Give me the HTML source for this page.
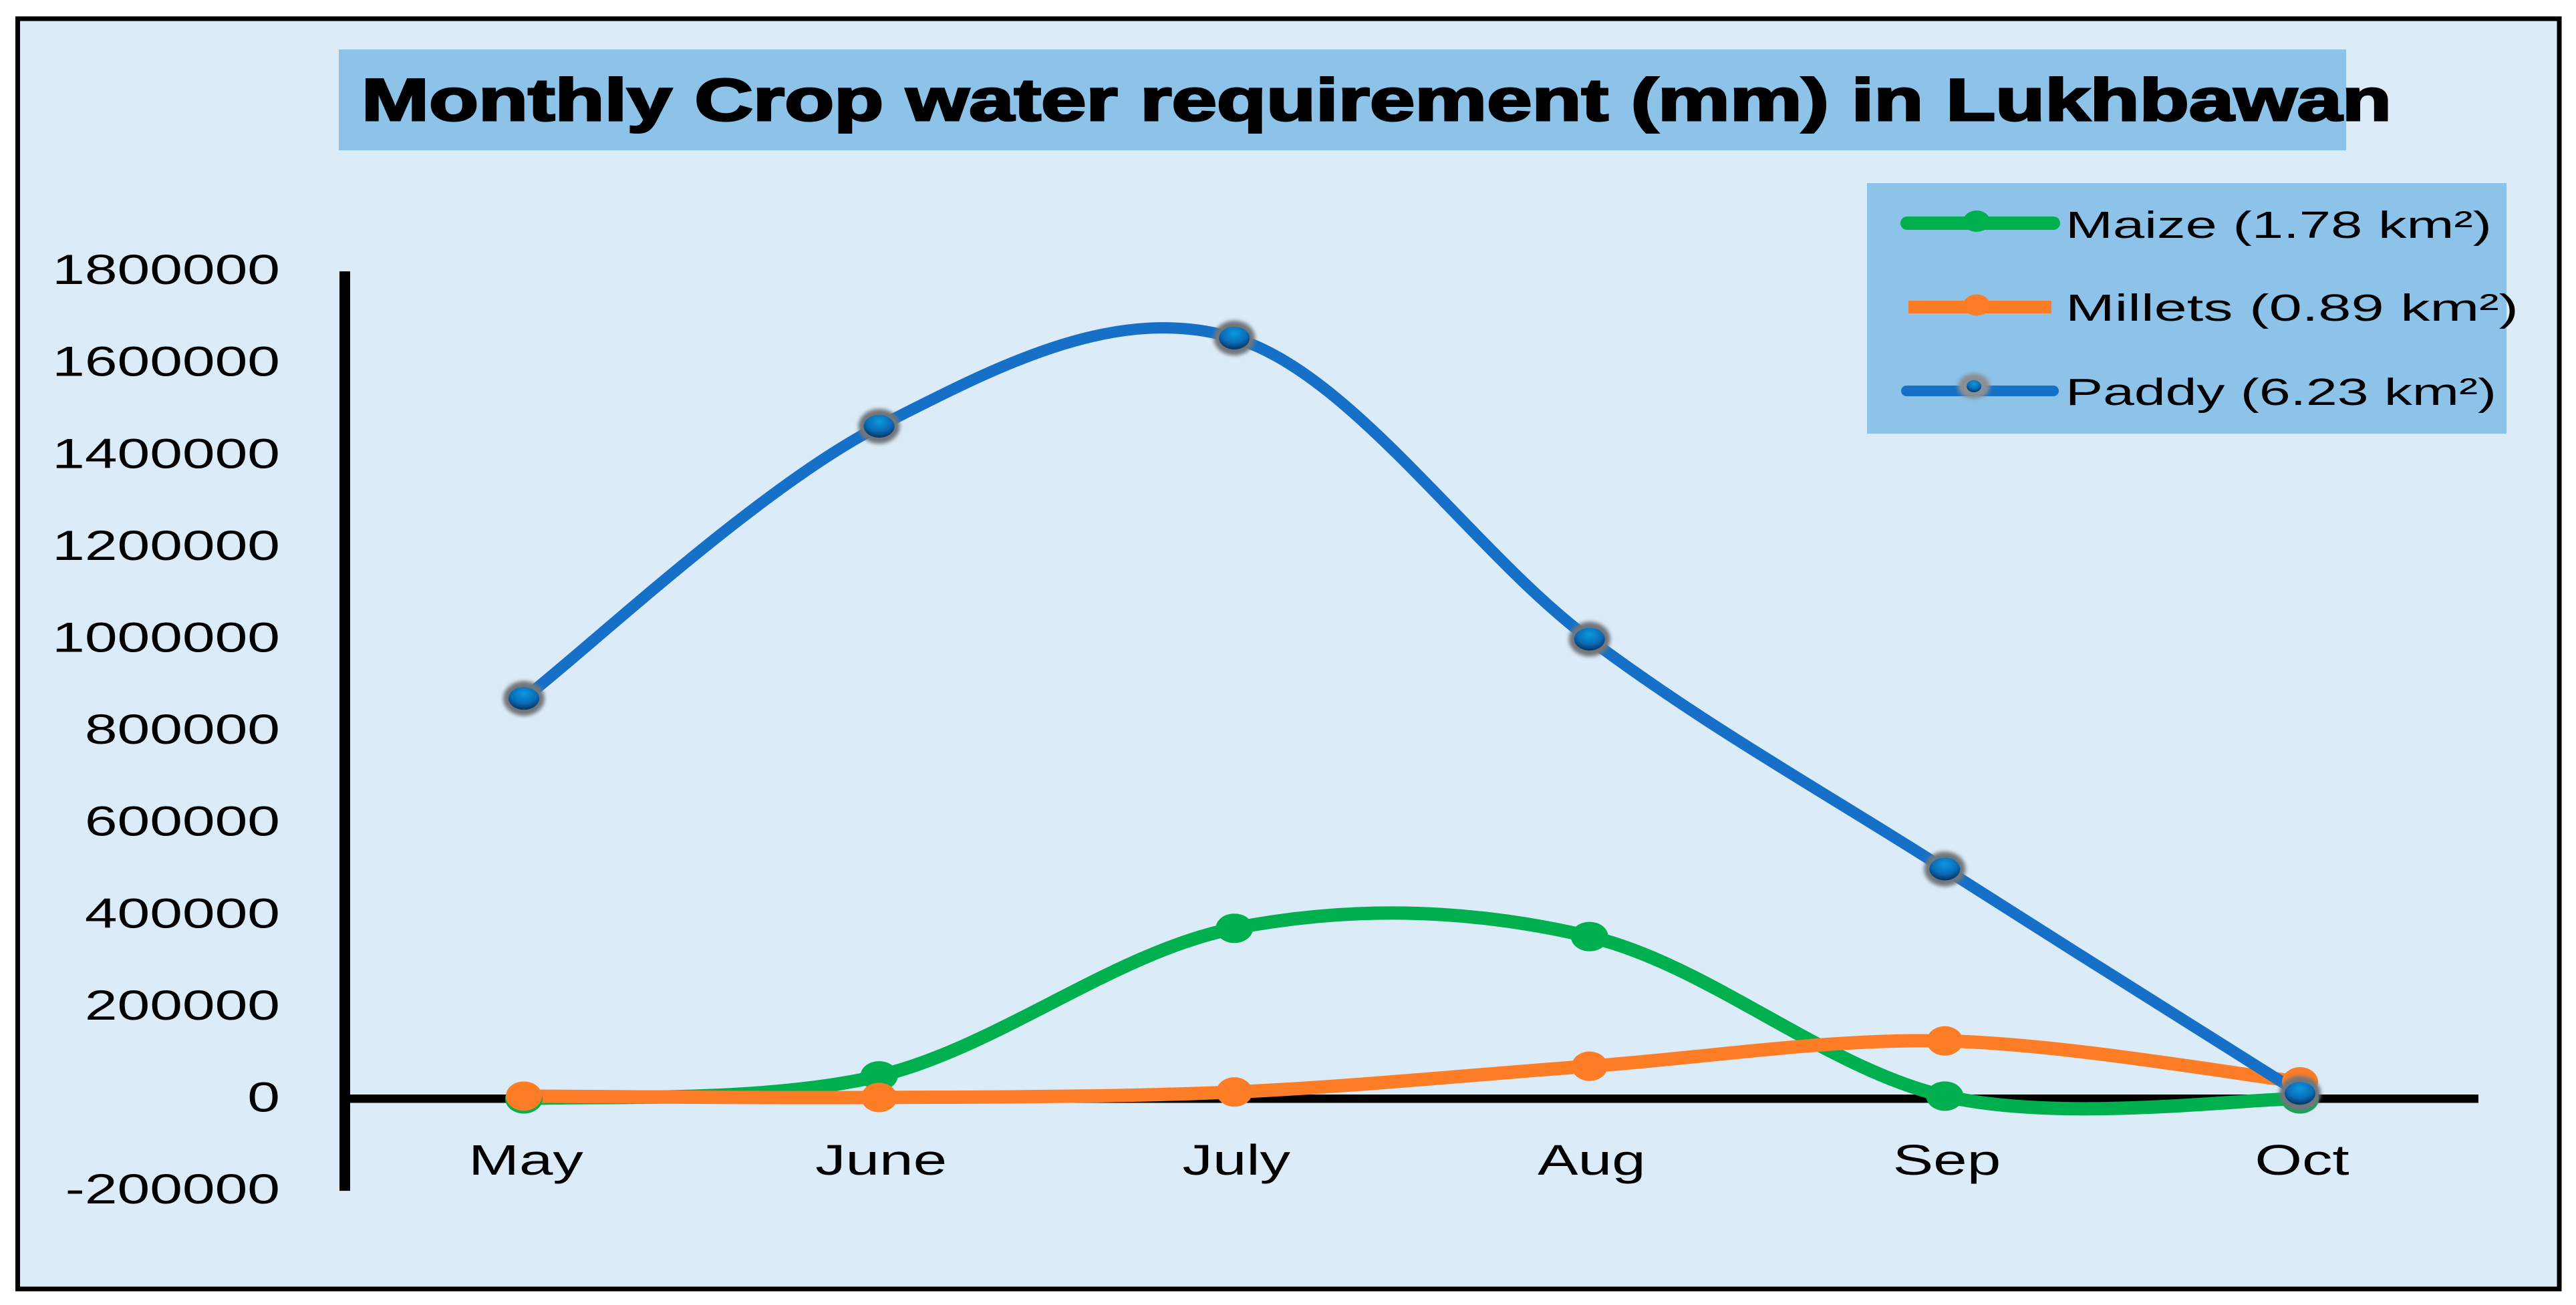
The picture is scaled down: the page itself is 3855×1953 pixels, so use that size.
<!DOCTYPE html>
<html lang="en">
<head>
<meta charset="utf-8">
<title>Monthly Crop water requirement (mm) in Lukhbawan</title>
<style>
html,body{margin:0;padding:0;background:#fff;width:3855px;height:1953px;overflow:hidden}
svg{display:block}
text{font-family:"Liberation Sans",sans-serif;fill:#000}
</style>
</head>
<body>
<svg id="chart" xmlns="http://www.w3.org/2000/svg" width="3855" height="1953" viewBox="0 0 3855 1953">
<defs>
<radialGradient id="paddyGrad" cx="50%" cy="30%" r="75%">
<stop offset="0%" stop-color="#0a98e0"/>
<stop offset="55%" stop-color="#0a6cb8"/>
<stop offset="100%" stop-color="#052a52"/>
</radialGradient>
<filter id="haloBlur" x="-40%" y="-40%" width="180%" height="180%"><feGaussianBlur stdDeviation="3"/></filter>
</defs>
<rect x="26.5" y="28" width="3803.5" height="1901" fill="#dbebf7" stroke="#000" stroke-width="7"/>
<rect x="507" y="74" width="3004" height="151" fill="#8dc3e8"/>
<text x="541" y="180" font-size="89" font-weight="700" stroke="#000" stroke-width="3" textLength="3038" lengthAdjust="spacingAndGlyphs">Monthly Crop water requirement (mm) in Lukhbawan</text>
<g id="axes"></g>
<g id="series"></g>
<g id="markers"></g>
<g>
<rect x="2794" y="274" width="957" height="375" fill="#8dc3e8"/>
<line x1="2854" y1="334" x2="3073" y2="334" stroke="#00b04f" stroke-width="20" stroke-linecap="round"/>
<ellipse cx="2958" cy="331" rx="20" ry="16" fill="#00b04f"/>
<text x="3091" y="356" font-size="57" textLength="638" lengthAdjust="spacingAndGlyphs">Maize (1.78 km²)</text>
<line x1="2856" y1="459.5" x2="3070" y2="459.5" stroke="#fd7c26" stroke-width="19"/>
<ellipse cx="2958" cy="456.5" rx="20" ry="16" fill="#fd7c26"/>
<text x="3091" y="480" font-size="57" textLength="678" lengthAdjust="spacingAndGlyphs">Millets (0.89 km²)</text>
<line x1="2853" y1="585" x2="3073" y2="585" stroke="#1670c8" stroke-width="16" stroke-linecap="round"/>
<ellipse cx="2954" cy="578" rx="24" ry="19" fill="#8a8f96" filter="url(#haloBlur)"/>
<ellipse cx="2954" cy="578" rx="11" ry="9" fill="url(#paddyGrad)"/>
<text x="3091" y="606" font-size="57" textLength="645" lengthAdjust="spacingAndGlyphs">Paddy (6.23 km²)</text>
</g>
</svg>
<script>
var categories = ["May", "June", "July", "Aug", "Sep", "Oct"];
var yTickValues = [1800000, 1600000, 1400000, 1200000, 1000000, 800000, 600000, 400000, 200000, 0, -200000];
var maizeValues = [0, 50000, 371000, 353000, 6000, 0];
var milletsValues = [6000, 3000, 15000, 71000, 126000, 37000];
var paddyValues = [871000, 1463000, 1655000, 1000000, 500000, 12000];

var NS = "http://www.w3.org/2000/svg";
function xScale(i) { return 784 + i * 531.6; }
function yScale(v) { return 1644.5 - v * 0.000688; }
function make(tag, parent, attrs) {
  var el = document.createElementNS(NS, tag);
  for (var k in attrs) { el.setAttribute(k, attrs[k]); }
  parent.appendChild(el);
  return el;
}
function smoothPath(vals) {
  var p = vals.map(function (v, i) { return [xScale(i), yScale(v)]; });
  var d = "M" + p[0][0] + " " + p[0][1];
  for (var i = 0; i < p.length - 1; i++) {
    var a = p[Math.max(i - 1, 0)], b = p[i], c = p[i + 1], e = p[Math.min(i + 2, p.length - 1)];
    var t = 1 / 6;
    d += " C" + (b[0] + (c[0] - a[0]) * t) + " " + (b[1] + (c[1] - a[1]) * t) + " " +
         (c[0] - (e[0] - b[0]) * t) + " " + (c[1] - (e[1] - b[1]) * t) + " " + c[0] + " " + c[1];
  }
  return d;
}

var axes = document.getElementById("axes");
var yAxis = make("rect", axes, { x: 508, y: yScale(1800000), width: 16, height: yScale(-200000) - yScale(1800000), fill: "#000" });


var xAxis = make("rect", axes, { x: 516, y: yScale(0) - 6.5, width: 3193, height: 12.5, fill: "#000" });



yTickValues.forEach(function (v) {
  var t = make("text", axes, { transform: "translate(419," + (yScale(v) + 19) + ") scale(1.39,1)", "text-anchor": "end", "font-size": 63 });
  
  
  t.textContent = String(v);
});
categories.forEach(function (c, i) {
  var t = make("text", axes, { transform: "translate(" + (xScale(i) + 3) + ",1758) scale(1.42,1)", "text-anchor": "middle", "font-size": 64 });
  
  
  t.textContent = c;
});

var seriesG = document.getElementById("series");
var markersG = document.getElementById("markers");

var maizeLine = make("path", seriesG, { d: smoothPath(maizeValues), fill: "none", stroke: "#00b04f", "stroke-width": 20 });


var milletsLine = make("path", seriesG, { d: smoothPath(milletsValues), fill: "none", stroke: "#fd7c26", "stroke-width": 20 });


var paddyLine = make("path", seriesG, { d: smoothPath(paddyValues), fill: "none", stroke: "#1670c8", "stroke-width": 17 });



maizeValues.forEach(function (v, i) {
  var m = make("ellipse", markersG, { cx: xScale(i), cy: yScale(v), rx: 28, ry: 22, fill: "#00b04f" });
  
  
});
milletsValues.forEach(function (v, i) {
  var m = make("ellipse", markersG, { cx: xScale(i), cy: yScale(v), rx: 27, ry: 22, fill: "#fd7c26" });
  
  
});
paddyValues.forEach(function (v, i) {
  var h = make("ellipse", markersG, { cx: xScale(i), cy: yScale(v), rx: 31, ry: 26, fill: "#71767c", filter: "url(#haloBlur)" });
  
  
  var m = make("ellipse", markersG, { cx: xScale(i), cy: yScale(v), rx: 23, ry: 17, fill: "url(#paddyGrad)" });
  
  
});
</script>
</body>
</html>
